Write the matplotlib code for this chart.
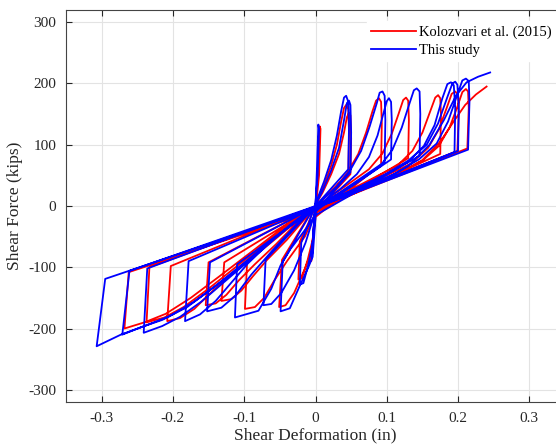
import numpy as np
import matplotlib
matplotlib.use("Agg")
import matplotlib.pyplot as plt

plt.rcParams['font.family'] = ['Liberation Serif', 'DejaVu Serif']
plt.rcParams['axes.unicode_minus'] = False

# shear deformation (in) / shear force (kips), traced cycle by cycle
kolozvari = [
    (0.000, 0), (0.003, 50), (0.006, 130), (0.007, 126), (0.005, 50), (0.001, 5),
    (-0.003, -40), (-0.006, -90), (-0.004, -62), (-0.001, -12),
    (0.000, 0), (0.046, 52), (0.047, 120), (0.046, 158), (0.043, 165), (0.040, 160), (0.036, 138),
    (0.030, 100), (0.022, 66), (0.012, 34), (0.002, 8),
    (-0.010, -28), (-0.022, -58), (-0.024, -120), (-0.019, -118), (-0.011, -88), (-0.004, -55), (0.000, -10),
    (0.049, 52), (0.050, 110), (0.049, 148), (0.047, 152), (0.044, 145), (0.040, 120), (0.033, 85),
    (0.022, 52), (0.010, 22), (0.000, 2),
    (-0.047, -88), (-0.051, -165), (-0.042, -162), (-0.030, -142), (-0.014, -100), (-0.005, -74), (0.000, -18),
    (0.092, 68), (0.093, 135), (0.092, 170), (0.089, 176), (0.085, 172), (0.080, 155), (0.071, 120),
    (0.060, 85), (0.045, 55), (0.028, 30), (0.008, 8),
    (-0.096, -92), (-0.099, -168), (-0.085, -165), (-0.072, -150), (-0.058, -122), (-0.040, -90),
    (-0.015, -50), (0.000, -12),
    (0.130, 78), (0.131, 140), (0.130, 172), (0.127, 177), (0.123, 173), (0.117, 152), (0.107, 118),
    (0.094, 86), (0.075, 60), (0.045, 35), (0.015, 10),
    (-0.128, -92), (-0.132, -155), (-0.118, -152), (-0.104, -138), (-0.088, -115), (-0.068, -88),
    (-0.040, -55), (-0.010, -14),
    (0.175, 85), (0.176, 150), (0.175, 176), (0.172, 181), (0.168, 177), (0.161, 155), (0.150, 120),
    (0.136, 90), (0.115, 66), (0.080, 45), (0.035, 18), (0.005, 2),
    (-0.150, -92), (-0.154, -162), (-0.140, -159), (-0.125, -145), (-0.108, -122), (-0.085, -95),
    (-0.055, -62), (-0.025, -26), (0.000, -3),
    (0.199, 90), (0.201, 150), (0.200, 182), (0.196, 187), (0.191, 183), (0.184, 160), (0.173, 125),
    (0.158, 95), (0.135, 70), (0.100, 50), (0.055, 27), (0.015, 6),
    (-0.203, -98), (-0.208, -188), (-0.190, -183), (-0.170, -168), (-0.150, -145), (-0.125, -118),
    (-0.095, -88), (-0.055, -50), (-0.015, -12),
    (0.213, 94), (0.215, 160), (0.214, 187), (0.211, 191), (0.206, 186), (0.199, 162), (0.188, 128),
    (0.173, 98), (0.150, 74), (0.110, 50), (0.060, 27), (0.015, 5),
    (-0.233, -100), (-0.237, -190), (-0.212, -182), (-0.185, -165), (-0.150, -135), (-0.110, -98),
    (-0.065, -56), (-0.020, -15),
    (-0.262, -108), (-0.268, -200), (-0.240, -190), (-0.210, -176), (-0.175, -150), (-0.135, -115),
    (-0.090, -75), (-0.040, -30), (0.000, 0),
    (0.060, 25), (0.110, 48), (0.150, 75), (0.175, 105), (0.195, 140), (0.210, 165), (0.225, 182),
    (0.240, 195),
]

this_study = [
    (0.000, 0), (0.002, 60), (0.004, 133), (0.005, 125), (0.003, 50), (0.000, 5),
    (-0.003, -40), (-0.005, -85), (-0.004, -60), (-0.001, -10),
    (0.000, 0), (0.046, 60), (0.047, 130), (0.046, 170), (0.043, 180), (0.040, 177), (0.036, 155),
    (0.030, 115), (0.022, 75), (0.012, 40), (0.002, 10),
    (-0.010, -30), (-0.020, -60), (-0.022, -128), (-0.017, -126), (-0.010, -95), (-0.004, -60), (0.000, -10),
    (0.049, 55), (0.050, 120), (0.049, 165), (0.047, 172), (0.044, 168), (0.040, 140), (0.033, 95),
    (0.022, 58), (0.010, 25), (0.000, 2),
    (-0.046, -91), (-0.049, -172), (-0.036, -167), (-0.022, -130), (-0.010, -100), (-0.004, -83), (0.000, -20),
    (0.000, -5), (0.097, 72), (0.098, 140), (0.097, 180), (0.094, 187), (0.090, 185), (0.086, 168),
    (0.076, 130), (0.064, 90), (0.048, 57), (0.030, 32), (0.010, 10), (0.000, 0),
    (-0.070, -88), (-0.073, -162), (-0.062, -160), (-0.048, -142), (-0.030, -105), (-0.014, -60), (0.000, -8),
    (0.106, 76), (0.107, 140), (0.106, 170), (0.103, 176), (0.100, 171), (0.095, 150), (0.087, 115),
    (0.075, 80), (0.058, 52), (0.035, 28), (0.010, 6),
    (-0.110, -95), (-0.113, -182), (-0.080, -171), (-0.062, -135), (-0.049, -97), (-0.035, -70),
    (-0.012, -35), (0.000, -15),
    (0.146, 82), (0.147, 150), (0.146, 187), (0.142, 192), (0.138, 189), (0.132, 168), (0.121, 128),
    (0.108, 92), (0.090, 64), (0.060, 40), (0.030, 18), (0.005, 2),
    (-0.148, -92), (-0.152, -172), (-0.132, -166), (-0.112, -146), (-0.090, -112), (-0.060, -72),
    (-0.025, -28), (0.000, -3),
    (0.195, 88), (0.196, 160), (0.194, 197), (0.190, 202), (0.185, 199), (0.178, 176), (0.167, 132),
    (0.152, 98), (0.130, 72), (0.100, 52), (0.060, 30), (0.020, 8),
    (-0.178, -90), (-0.183, -188), (-0.162, -177), (-0.140, -155), (-0.118, -125), (-0.095, -94),
    (-0.060, -55), (-0.020, -18), (0.000, -3),
    (0.214, 92), (0.216, 170), (0.215, 204), (0.211, 208), (0.206, 205), (0.199, 182), (0.186, 138),
    (0.170, 102), (0.145, 76), (0.110, 52), (0.060, 28), (0.020, 8),
    (-0.236, -102), (-0.241, -207), (-0.215, -196), (-0.190, -181), (-0.160, -156), (-0.120, -116),
    (-0.080, -76), (-0.040, -36), (0.000, -3),
    (0.200, 90), (0.201, 165), (0.199, 198), (0.196, 203), (0.192, 200), (0.185, 178), (0.172, 135),
    (0.156, 100), (0.130, 74), (0.095, 50), (0.050, 25), (0.010, 4),
    (-0.261, -106), (-0.271, -210), (-0.245, -198), (-0.215, -186), (-0.180, -165), (-0.140, -130),
    (-0.095, -88), (-0.050, -45), (0.000, -3),
    (-0.295, -119), (-0.307, -229), (-0.273, -210), (-0.240, -196), (-0.205, -180), (-0.170, -156),
    (-0.125, -118), (-0.080, -76), (-0.035, -30), (0.000, 0),
    (0.050, 22), (0.100, 45), (0.130, 65), (0.160, 100), (0.180, 140), (0.197, 180), (0.212, 202),
    (0.228, 211), (0.245, 218),
]

x_ticks = [-0.3, -0.2, -0.1, 0, 0.1, 0.2, 0.3]
x_tick_labels = ['-0.3', '-0.2', '-0.1', '0', '0.1', '0.2', '0.3']
y_ticks = [-300, -200, -100, 0, 100, 200, 300]

red = np.array(kolozvari)
blue = np.array(this_study)

fig = plt.figure(figsize=(5.56, 4.45), dpi=100)
# axes box runs a little past the right edge of the figure
ax = fig.add_axes([66 / 556, 43 / 445, 499 / 556, 392 / 445])

ax.plot(red[:, 0], red[:, 1], color='#ff0000', lw=1.3, label='Kolozvari et al. (2015)')
ax.plot(blue[:, 0], blue[:, 1], color='#0000ff', lw=1.3, label='This study')

ax.set_xlim(-0.35, 0.35)
ax.set_ylim(-320, 320)
ax.set_xticks(x_ticks)
ax.set_xticklabels(x_tick_labels)
ax.set_yticks(y_ticks)
ax.grid(True, color='#e3e3e3', lw=0.8)
ax.set_axisbelow(True)
ax.tick_params(direction='in', length=4, width=0.8, colors='#262626', labelsize=11,
               top=True, right=True, pad=7)
for s in ax.spines.values():
    s.set_color('#444444')
    s.set_linewidth(0.8)

ax.set_xlabel('Shear Deformation (in)', fontsize=12.5, color='#262626', labelpad=2)
ax.set_ylabel('Shear Force (kips)', fontsize=12.5, color='#262626', labelpad=4)

leg = ax.legend(loc='upper right', bbox_to_anchor=(1.0, 0.952), bbox_transform=fig.transFigure,
                frameon=True, fancybox=False, edgecolor='white', framealpha=1.0,
                fontsize=10.5, handlelength=3.1, handletextpad=0.2, labelspacing=0.3,
                borderaxespad=0.0, borderpad=0.3)

fig.savefig('out.png', dpi=100)
